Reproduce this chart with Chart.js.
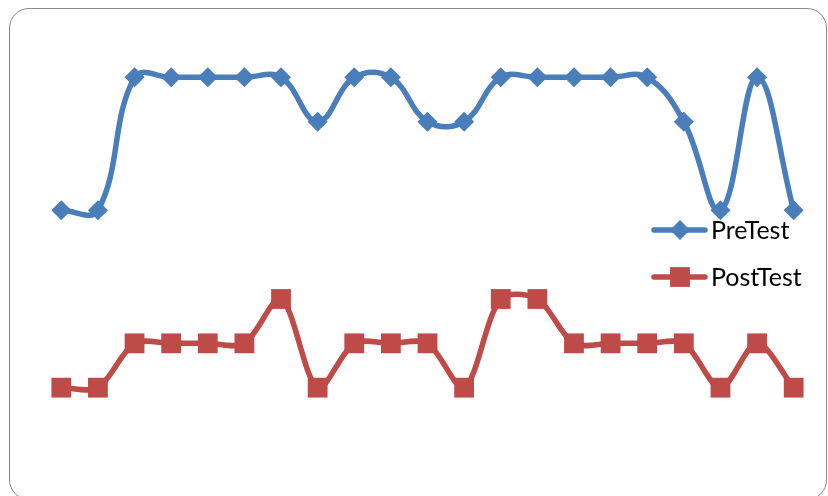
<!DOCTYPE html>
<html>
<head>
<meta charset="utf-8">
<script src="https://cdn.jsdelivr.net/npm/chart.js@4/dist/chart.umd.min.js"></script>
<style>
    html, body { margin: 0; padding: 0; background: #ffffff; overflow: hidden; }
    .wrap { position: relative; width: 828px; height: 496px; }
    .frame {
        position: absolute; left: 9px; top: 8px; width: 818px; height: 492px;
        border: 1px solid #8a8a8a; border-radius: 20px; box-sizing: border-box;
    }
    canvas { position: absolute; left: 0; top: 0; }
</style>
</head>
<body>
<div class="wrap">
    <div class="frame"></div>
    <canvas id="chart" width="828" height="496"></canvas>
</div>
<script>
const categories = ['1', '2', '3', '4', '5', '6', '7', '8', '9', '10', '11', '12', '13', '14', '15', '16', '17', '18', '19', '20', '21'];
const preTest = [5, 5, 8, 8, 8, 8, 8, 7, 8, 8, 7, 7, 8, 8, 8, 8, 8, 7, 5, 8, 5];
const postTest = [1, 1, 2, 2, 2, 2, 3, 1, 2, 2, 2, 1, 3, 3, 2, 2, 2, 2, 1, 2, 1];

const blue = '#4a7ebb';
const red = '#be4b48';

// legend drawn inside the plot, like the Excel original
const floatingLegend = {
    id: 'floatingLegend',
    afterDraw(chart) {
        const ctx = chart.ctx;
        const items = [
            { text: 'PreTest', color: blue, style: 'rectRot', radius: 10, y: 230 },
            { text: 'PostTest', color: red, style: 'rect', radius: 14, y: 277 },
        ];
        ctx.save();
        items.forEach((item) => {
            ctx.strokeStyle = item.color;
            ctx.lineWidth = 5.5;
            ctx.lineCap = 'round';
            ctx.beginPath();
            ctx.moveTo(654, item.y);
            ctx.lineTo(705, item.y);
            ctx.stroke();
            ctx.fillStyle = item.color;
            Chart.helpers.drawPoint(ctx, { pointStyle: item.style, radius: item.radius, borderWidth: 0 }, 680, item.y);
            ctx.fillStyle = '#000000';
            ctx.font = '25px Lato, sans-serif';
            ctx.textBaseline = 'middle';
            ctx.fillText(item.text, 711, item.y + 1);
        });
        ctx.restore();
    },
};

new Chart(document.getElementById('chart'), {
    type: 'line',
    data: {
        labels: categories,
        datasets: [
            {
                label: 'PreTest',
                data: preTest,
                borderColor: blue,
                backgroundColor: blue,
                borderWidth: 5.5,
                tension: 0.4,
                pointStyle: 'rectRot',
                pointRadius: 10,
                pointBorderWidth: 0,
            },
            {
                label: 'PostTest',
                data: postTest,
                borderColor: red,
                backgroundColor: red,
                borderWidth: 5.5,
                tension: 0.3,
                pointStyle: 'rect',
                pointRadius: 14,
                pointBorderWidth: 0,
            },
        ],
    },
    options: {
        responsive: false,
        animation: false,
        layout: { padding: { left: 43, right: 16, top: 33, bottom: 64 } },
        plugins: {
            legend: { display: false },
            tooltip: { enabled: false },
        },
        scales: {
            x: { display: false, offset: true },
            y: { display: false, min: 0, max: 9 },
        },
    },
    plugins: [floatingLegend],
});
</script>
</body>
</html>
